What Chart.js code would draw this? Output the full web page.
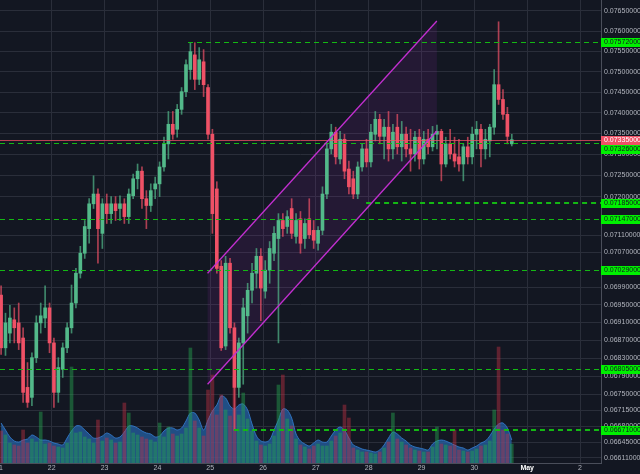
<!DOCTYPE html>
<html>
<head>
<meta charset="utf-8">
<script src="https://cdn.jsdelivr.net/npm/chart.js@4.4.0/dist/chart.umd.min.js"></script>
<style>
  html, body { margin: 0; padding: 0; background: #131722; }
  #wrap { width: 640px; height: 474px; }
</style>
</head>
<body>
<div id="wrap"><canvas id="chart"></canvas></div>
<script>
// 2h candles, 21 Apr -> 30 Apr
const firstDay = 21;
const hoursPerCandle = 2;

const opens = [
  0.06972, 0.06853, 0.06886, 0.06916, 0.06909, 0.06875, 0.06765, 0.06743, 0.06831, 0.06909,
  0.06920, 0.06943, 0.06864, 0.06754, 0.06805, 0.06853, 0.06898, 0.06954, 0.07022, 0.07068,
  0.07125, 0.07183, 0.07206, 0.07114, 0.07183, 0.07160, 0.07183, 0.07172, 0.07183, 0.07153,
  0.07202, 0.07242, 0.07260, 0.07195, 0.07179, 0.07218, 0.07230, 0.07270, 0.07325, 0.07372,
  0.07360, 0.07408, 0.07451, 0.07505, 0.07541, 0.07481, 0.07524, 0.07461, 0.07348, 0.07218,
  0.07038, 0.06857, 0.07045, 0.06898, 0.06765, 0.06864, 0.06925, 0.06983, 0.07022, 0.07061,
  0.06981, 0.07029, 0.07068, 0.07102, 0.07144, 0.07130, 0.07172, 0.07107, 0.07148, 0.07102,
  0.07148, 0.07121, 0.07091, 0.07121, 0.07206, 0.07313, 0.07353, 0.07289, 0.07336, 0.07265,
  0.07242, 0.07206, 0.07270, 0.07313, 0.07282, 0.07348, 0.07384, 0.07343, 0.07365, 0.07313,
  0.07365, 0.07318, 0.07348, 0.07313, 0.07301, 0.07341, 0.07289, 0.07336, 0.07318, 0.07348,
  0.07355, 0.07277, 0.07325, 0.07301, 0.07294, 0.07277, 0.07318, 0.07294, 0.07348, 0.07360,
  0.07313, 0.07332, 0.07365, 0.07468, 0.07432, 0.07396, 0.07325
];
const highs = [
  0.06993, 0.06931, 0.06949, 0.06943, 0.06954, 0.06898, 0.06820, 0.06842, 0.06925, 0.06954,
  0.06993, 0.06954, 0.06875, 0.06831, 0.06864, 0.06909, 0.06995, 0.07033, 0.07084, 0.07144,
  0.07195, 0.07249, 0.07218, 0.07195, 0.07206, 0.07200, 0.07200, 0.07202, 0.07195, 0.07218,
  0.07253, 0.07277, 0.07270, 0.07214, 0.07230, 0.07246, 0.07282, 0.07341, 0.07403, 0.07403,
  0.07420, 0.07461, 0.07529, 0.07571, 0.07571, 0.07559, 0.07554, 0.07468, 0.07360, 0.07235,
  0.07051, 0.07061, 0.07056, 0.06909, 0.06875, 0.06965, 0.06999, 0.07045, 0.07079, 0.07079,
  0.07051, 0.07095, 0.07130, 0.07160, 0.07160, 0.07167, 0.07195, 0.07160, 0.07165, 0.07148,
  0.07195, 0.07144, 0.07130, 0.07223, 0.07325, 0.07372, 0.07365, 0.07355, 0.07348, 0.07284,
  0.07260, 0.07282, 0.07325, 0.07336, 0.07372, 0.07403, 0.07396, 0.07384, 0.07403, 0.07372,
  0.07396, 0.07379, 0.07365, 0.07360, 0.07355, 0.07360, 0.07355, 0.07360, 0.07367, 0.07370,
  0.07360, 0.07341, 0.07360, 0.07341, 0.07336, 0.07325, 0.07341, 0.07365, 0.07379, 0.07372,
  0.07360, 0.07372, 0.07505, 0.07623, 0.07456, 0.07413, 0.07348
];
const lows = [
  0.06838, 0.06836, 0.06864, 0.06864, 0.06849, 0.06732, 0.06721, 0.06725, 0.06820, 0.06886,
  0.06898, 0.06842, 0.06721, 0.06732, 0.06787, 0.06842, 0.06886, 0.06943, 0.07011, 0.07056,
  0.07091, 0.07172, 0.07045, 0.07079, 0.07137, 0.07137, 0.07144, 0.07144, 0.07137, 0.07137,
  0.07195, 0.07218, 0.07172, 0.07125, 0.07165, 0.07195, 0.07200, 0.07260, 0.07289, 0.07336,
  0.07341, 0.07396, 0.07439, 0.07481, 0.07456, 0.07468, 0.07439, 0.07336, 0.07114, 0.07022,
  0.06847, 0.06849, 0.06886, 0.06671, 0.06743, 0.06772, 0.06886, 0.06954, 0.06988, 0.06914,
  0.06965, 0.06999, 0.07051, 0.06864, 0.07107, 0.07114, 0.07102, 0.07091, 0.07068, 0.07079,
  0.07102, 0.07079, 0.07075, 0.07111, 0.07195, 0.07301, 0.07277, 0.07277, 0.07242, 0.07206,
  0.07195, 0.07195, 0.07260, 0.07270, 0.07270, 0.07332, 0.07325, 0.07289, 0.07284, 0.07289,
  0.07301, 0.07284, 0.07294, 0.07260, 0.07284, 0.07265, 0.07277, 0.07301, 0.07308, 0.07313,
  0.07237, 0.07270, 0.07289, 0.07270, 0.07260, 0.07237, 0.07277, 0.07277, 0.07313, 0.07270,
  0.07289, 0.07294, 0.07348, 0.07420, 0.07384, 0.07325, 0.07320
];
const closes = [
  0.06853, 0.06909, 0.06920, 0.06898, 0.06864, 0.06754, 0.06732, 0.06831, 0.06909, 0.06925,
  0.06943, 0.06864, 0.06754, 0.06809, 0.06853, 0.06898, 0.06954, 0.07022, 0.07068, 0.07130,
  0.07183, 0.07206, 0.07125, 0.07183, 0.07160, 0.07183, 0.07167, 0.07183, 0.07153, 0.07206,
  0.07242, 0.07260, 0.07195, 0.07179, 0.07214, 0.07230, 0.07270, 0.07325, 0.07372, 0.07348,
  0.07408, 0.07451, 0.07517, 0.07549, 0.07481, 0.07529, 0.07468, 0.07348, 0.07160, 0.07033,
  0.06853, 0.07045, 0.06898, 0.06765, 0.06864, 0.06943, 0.06983, 0.07022, 0.07061, 0.06988,
  0.07029, 0.07079, 0.07114, 0.07144, 0.07125, 0.07153, 0.07114, 0.07144, 0.07091, 0.07137,
  0.07111, 0.07098, 0.07121, 0.07206, 0.07313, 0.07353, 0.07294, 0.07336, 0.07260, 0.07223,
  0.07206, 0.07270, 0.07313, 0.07282, 0.07353, 0.07384, 0.07343, 0.07365, 0.07313, 0.07353,
  0.07318, 0.07348, 0.07313, 0.07301, 0.07341, 0.07289, 0.07336, 0.07318, 0.07348, 0.07355,
  0.07277, 0.07325, 0.07301, 0.07284, 0.07277, 0.07318, 0.07294, 0.07348, 0.07360, 0.07313,
  0.07336, 0.07365, 0.07468, 0.07432, 0.07396, 0.07343, 0.07335
];
const volumes = [
  320, 280, 200, 180, 170, 330, 200, 240, 210, 510,
  190, 200, 170, 160, 150, 200, 960, 300, 310, 260,
  240, 200, 430, 220, 250, 230, 200, 210, 600, 500,
  300, 280, 260, 240, 230, 210, 400, 260, 360, 290,
  270, 290, 350, 1150, 420, 350, 270, 730, 880, 480,
  680, 530, 470, 850, 480, 700, 440, 320, 220, 180,
  170, 190, 270, 780, 880, 440, 370, 240, 180, 160,
  140, 170, 190, 170, 170, 220, 270, 300, 580, 450,
  150, 130, 110, 110, 100, 90, 110, 150, 210, 500,
  240, 210, 180, 150, 130, 120, 110, 110, 160, 360,
  190, 180, 170, 330, 130, 120, 110, 120, 140, 170,
  180, 220, 530, 1160, 330, 290, 190
];
const volumeAvg = [
  400, 330, 260, 220, 210, 230, 240, 280, 260, 230,
  230, 220, 200, 190, 180, 250, 320, 370, 370, 330,
  290, 250, 250, 270, 300, 280, 250, 260, 310, 370,
  370, 350, 320, 300, 290, 260, 270, 320, 350, 350,
  330, 350, 420, 500, 500, 430, 330, 430, 520, 580,
  670, 650, 570, 540, 580, 590, 530, 390, 270, 220,
  210, 230, 330, 430, 540, 530, 450, 290, 220, 190,
  170, 200, 230, 210, 210, 270, 330, 360, 330, 250,
  180, 160, 140, 130, 120, 110, 130, 180, 250, 310,
  290, 250, 220, 180, 160, 150, 140, 130, 190, 220,
  230, 220, 200, 180, 160, 150, 130, 150, 170, 200,
  220, 270, 340, 390, 400, 350, 230
];

// right price scale ticks as shown
const yTicks = [0.0765, 0.0760, 0.0755, 0.0750, 0.0745, 0.0740, 0.0735, 0.0730, 0.0725, 0.0720,
  0.0711, 0.0707, 0.0699, 0.0695, 0.0691, 0.0687, 0.0683, 0.0679, 0.0675, 0.06715,
  0.0668, 0.06645, 0.06611];
const dayTicks = [21, 22, 23, 24, 25, 26, 27, 28, 29, 30, 31, 32];
const dayLabels = ['21', '22', '23', '24', '25', '26', '27', '28', '29', '30', 'May', '2'];

// horizontal levels (green dashed), start day null = whole width
const levelPrices = [0.07572, 0.07326, 0.07185, 0.07147, 0.07029, 0.06805, 0.06671];
const levelStarts = [24.58, null, 27.95, null, null, null, 25.45];
const lastPrice = 0.07335;

// parallel channel
const channelDays = [24.95, 29.29];
const channelUpper = [0.07022, 0.07625];
const channelLower = [0.06772, 0.07356];

// --- styles
const upColor = '#53b98a';
const downColor = '#ef5166';
const gridColor = '#2a2e3a';
const textColor = '#b2b5be';
const levelWidths = [1, 1, 2, 1, 1, 1, 2];
const font = '"Liberation Sans", Arial, sans-serif';

const times = opens.map((_, i) => firstDay + (i * hoursPerCandle + hoursPerCandle / 2) / 24);
const isUp = opens.map((o, i) => closes[i] >= o);

const overlay = {
  id: 'overlay',
  beforeDatasetsDraw(chart) {
    const { ctx, chartArea: a, scales: { x, y } } = chart;
    ctx.save();
    ctx.beginPath();
    ctx.rect(a.left, a.top, a.right - a.left, a.bottom - a.top);
    ctx.clip();
    ctx.fillStyle = 'rgba(156, 39, 176, 0.13)';
    ctx.beginPath();
    ctx.moveTo(x.getPixelForValue(channelDays[0]), y.getPixelForValue(channelUpper[0]));
    ctx.lineTo(x.getPixelForValue(channelDays[1]), y.getPixelForValue(channelUpper[1]));
    ctx.lineTo(x.getPixelForValue(channelDays[1]), y.getPixelForValue(channelLower[1]));
    ctx.lineTo(x.getPixelForValue(channelDays[0]), y.getPixelForValue(channelLower[0]));
    ctx.closePath();
    ctx.fill();
    ctx.restore();
  },
  afterDatasetsDraw(chart) {
    const { ctx, chartArea: a, scales: { x, y } } = chart;
    ctx.save();
    ctx.beginPath();
    ctx.rect(a.left, a.top, a.right - a.left, a.bottom - a.top);
    ctx.clip();

    // last price line
    const py = Math.round(y.getPixelForValue(lastPrice)) + 0.5;
    ctx.strokeStyle = 'rgba(239, 81, 102, 0.75)';
    ctx.lineWidth = 1;
    ctx.beginPath();
    ctx.moveTo(a.left, py);
    ctx.lineTo(a.right, py);
    ctx.stroke();

    // levels
    ctx.strokeStyle = '#14b814';
    ctx.setLineDash([5, 4]);
    levelPrices.forEach((p, i) => {
      const w = levelWidths[i];
      const ly = Math.round(y.getPixelForValue(p)) + (w % 2 ? 0.5 : 0);
      const x0 = levelStarts[i] === null ? a.left : x.getPixelForValue(levelStarts[i]);
      ctx.lineWidth = w;
      ctx.beginPath();
      ctx.moveTo(x0, ly);
      ctx.lineTo(a.right, ly);
      ctx.stroke();
    });
    ctx.setLineDash([]);

    // channel borders
    ctx.strokeStyle = '#c22fd0';
    ctx.lineWidth = 1.3;
    [channelUpper, channelLower].forEach(line => {
      ctx.beginPath();
      ctx.moveTo(x.getPixelForValue(channelDays[0]), y.getPixelForValue(line[0]));
      ctx.lineTo(x.getPixelForValue(channelDays[1]), y.getPixelForValue(line[1]));
      ctx.stroke();
    });
    ctx.restore();
  },
  afterDraw(chart) {
    const { ctx, chartArea: a, scales: { y }, width } = chart;
    ctx.save();
    ctx.font = '7px ' + font;
    ctx.textBaseline = 'middle';
    const placed = [];
    const box = (p, fill, txt) => {
      let by = Math.round(y.getPixelForValue(p));
      // keep the labels from covering each other
      placed.forEach(o => {
        if (Math.abs(by - o) < 9) by = by > o ? o + 9 : o - 9;
      });
      placed.push(by);
      ctx.fillStyle = fill;
      ctx.fillRect(a.right, by - 4, width - a.right, 9);
      ctx.fillStyle = txt;
      ctx.fillText(p.toFixed(8), a.right + 3, by + 0.5);
    };
    box(lastPrice, '#ef5166', '#ffffff');
    levelPrices.forEach(p => box(p, '#00f000', '#131722'));
    ctx.restore();
  }
};

new Chart(document.getElementById('chart'), {
  data: {
    datasets: [
      {
        type: 'bar',
        label: 'body',
        data: times.map((t, i) => ({ x: t, y: [opens[i], closes[i]] })),
        backgroundColor: isUp.map(u => u ? upColor : downColor),
        barThickness: 3,
        minBarLength: 1,
        grouped: false,
        order: 1
      },
      {
        type: 'bar',
        label: 'wick',
        data: times.map((t, i) => ({ x: t, y: [lows[i], highs[i]] })),
        backgroundColor: isUp.map(u => u ? 'rgba(83,185,138,0.7)' : 'rgba(239,81,102,0.7)'),
        barThickness: 1,
        grouped: false,
        order: 2
      },
      {
        type: 'bar',
        label: 'volume',
        yAxisID: 'yv',
        data: times.map((t, i) => ({ x: t, y: volumes[i] })),
        backgroundColor: isUp.map(u => u ? 'rgba(38,166,80,0.45)' : 'rgba(200,50,70,0.42)'),
        barThickness: 3,
        grouped: false,
        order: 3
      },
      {
        type: 'line',
        label: 'volume ma',
        yAxisID: 'yv',
        data: times.map((t, i) => ({ x: t, y: volumeAvg[i] })),
        borderColor: 'rgba(50,120,200,0.9)',
        borderWidth: 1,
        backgroundColor: 'rgba(38,98,165,0.75)',
        fill: 'origin',
        pointRadius: 0,
        tension: 0.3,
        order: 4
      }
    ]
  },
  options: {
    responsive: true,
    maintainAspectRatio: false,
    animation: false,
    layout: { padding: 0 },
    plugins: {
      legend: { display: false },
      tooltip: { enabled: false }
    },
    scales: {
      x: {
        type: 'linear',
        offset: false,
        min: 21.021,
        max: 32.397,
        afterBuildTicks(scale) {
          scale.ticks = dayTicks.map(v => ({ value: v }));
        },
        afterFit(scale) {
          scale.height = 11;
          scale.paddingLeft = 0;
          scale.paddingRight = 0;
        },
        ticks: {
          maxRotation: 0,
          autoSkip: false,
          padding: 1,
          font: ctx => ({ family: font, size: 7, weight: ctx.tick && ctx.tick.value === 31 ? 'bold' : 'normal' }),
          color: ctx => ctx.tick && ctx.tick.value === 31 ? '#ffffff' : textColor,
          callback: v => dayLabels[dayTicks.indexOf(v)]
        },
        grid: { color: gridColor, drawTicks: false, offset: false },
        border: { color: '#4a4e5a' }
      },
      y: {
        type: 'logarithmic',
        position: 'right',
        min: 0.066065,
        max: 0.076774,
        afterBuildTicks(scale) {
          scale.ticks = yTicks.map(v => ({ value: v }));
        },
        afterFit(scale) {
          scale.width = 39;
          scale.paddingTop = 0;
          scale.paddingBottom = 0;
        },
        ticks: {
          autoSkip: false,
          padding: 3,
          font: { family: font, size: 7 },
          color: textColor,
          callback: v => Number(v).toFixed(8)
        },
        grid: { color: gridColor, drawTicks: false },
        border: { color: '#4a4e5a' }
      },
      yv: {
        type: 'linear',
        display: false,
        min: 0,
        max: 4630
      }
    }
  },
  plugins: [overlay]
});
</script>
</body>
</html>
